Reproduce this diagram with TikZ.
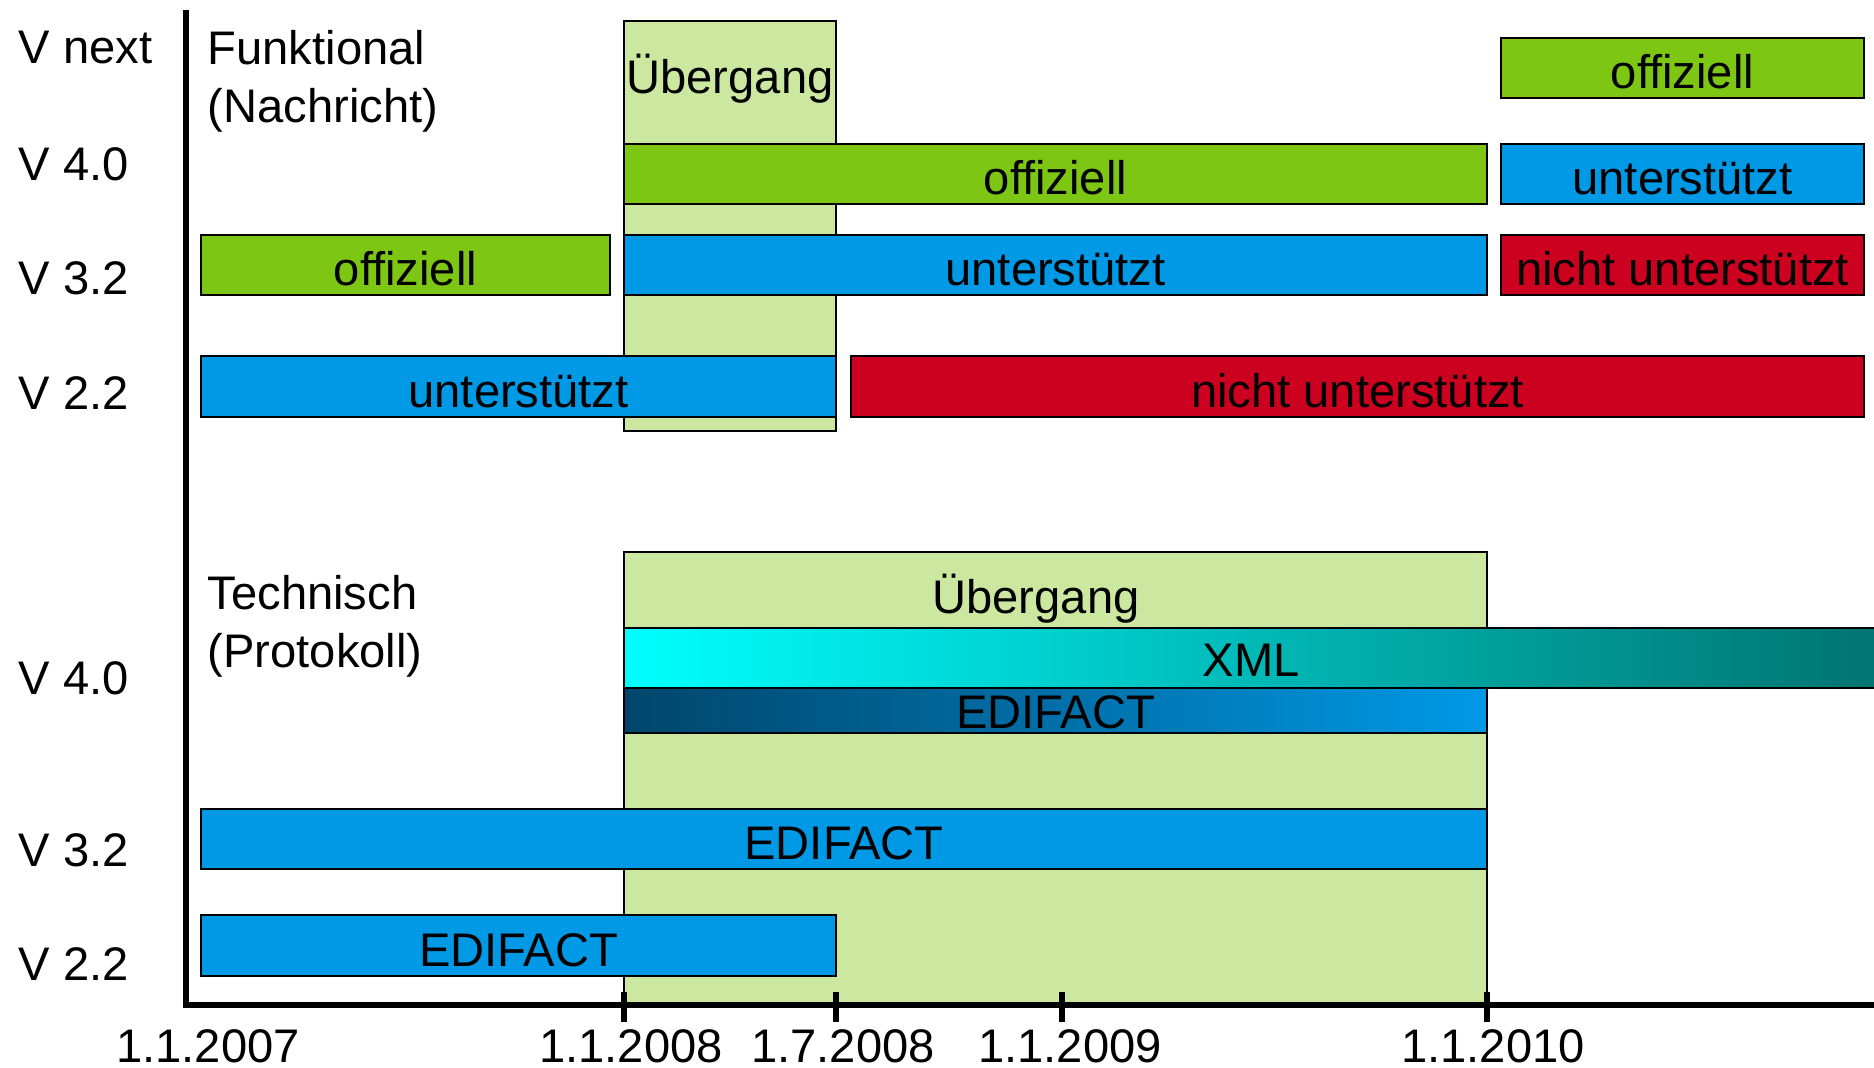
\documentclass[tikz,border=0pt]{standalone}
\usepackage{fontspec}
\setmainfont{Liberation Sans}
\begin{document}
\definecolor{offgreen}{HTML}{7DC614}
\definecolor{supblue}{HTML}{0099E6}
\definecolor{nored}{HTML}{CC001F}
\definecolor{transgreen}{HTML}{CCE8A0}
\definecolor{xmlcyan}{HTML}{00FFFF}
\definecolor{xmlteal}{HTML}{007470}
\definecolor{edidark}{HTML}{00466B}
% bar: name, style, x1, y1, x2, y2, text
\newcommand\tlbar[7]{%
  \node[#2, minimum width={(#5-#3)*0.01cm}, minimum height={(#6-#4)*0.01cm}]
    (#1) at ({(#3+#5)/2},{(#4+#6)/2}) {#7};}
\begin{tikzpicture}[x=0.01cm, y=-0.01cm,
  font=\fontsize{13.4}{16.5}\selectfont,
  barbase/.style={draw=black, line width=0.6pt, inner sep=0pt, outer sep=0pt,
    text=black, text height=11.9pt, text depth=0pt},
  offbar/.style={barbase, fill=offgreen},
  supbar/.style={barbase, fill=supblue},
  nobar/.style={barbase, fill=nored},
  transbox/.style={barbase, fill=transgreen},
  xmlbar/.style={barbase, left color=xmlcyan, right color=xmlteal},
  edibar/.style={barbase, left color=edidark, right color=supblue, text height=10.5pt},
  lbl/.style={inner sep=0pt, anchor=west},
  datelbl/.style={inner sep=0pt},
  axisline/.style={line width=1.8pt, black},
  tickmark/.style={line width=1.5pt, black}]
\useasboundingbox[fill=white] (0,0) rectangle (1874,1067);

% transition periods
\tlbar{transF}{transbox}{624}{21}{836}{431}{}
\node[inner sep=0pt] (transFlbl) at (730,79) {Übergang};
\tlbar{transT}{transbox}{624}{552}{1487}{1005}{}
\node[inner sep=0pt] (transTlbl) at (1036,599) {Übergang};

% functional versions
\tlbar{fNext}{offbar}{1501}{38}{1864}{98}{offiziell}
\tlbar{fFourA}{offbar}{624}{144}{1487}{204}{offiziell}
\tlbar{fFourB}{supbar}{1501}{144}{1864}{204}{unterstützt}
\tlbar{fThreeA}{offbar}{201}{235}{610}{295}{offiziell}
\tlbar{fThreeB}{supbar}{624}{235}{1487}{295}{unterstützt}
\tlbar{fThreeC}{nobar}{1501}{235}{1864}{295}{nicht unterstützt}
\tlbar{fTwoA}{supbar}{201}{356}{836}{417}{unterstützt}
\tlbar{fTwoB}{nobar}{851}{356}{1864}{417}{nicht unterstützt}

% technical versions
\tlbar{tXml}{xmlbar}{624}{628}{1880}{688}{}
\node[inner sep=0pt] (tXmllbl) at (1251,660) {XML};
\tlbar{tFourEdi}{edibar}{624}{688}{1487}{733}{EDIFACT}
\tlbar{tThree}{supbar}{201}{809}{1487}{869}{EDIFACT}
\tlbar{tTwo}{supbar}{201}{915}{836}{976}{EDIFACT}

% axes
\coordinate (axTop) at (186,10);
\coordinate (axOrigin) at (186,1005);
\coordinate (axRight) at (1874,1005);
\draw[axisline] (axTop) -- (axOrigin) -- (axRight);
\foreach \tx/\nm in {624/tA, 836/tB, 1062/tC, 1487/tD}{
  \coordinate (\nm top) at (\tx,992);
  \coordinate (\nm bot) at (\tx,1022);
  \draw[tickmark] (\nm top) -- (\nm bot);
}

% date labels
\node[datelbl] (d2007) at (208,1046) {1.1.2007};
\node[datelbl] (d2008) at (631,1046) {1.1.2008};
\node[datelbl] (d2008b) at (843,1046) {1.7.2008};
\node[datelbl] (d2009) at (1070,1046) {1.1.2009};
\node[datelbl] (d2010) at (1493,1046) {1.1.2010};

% version labels
\node[lbl] (vNext) at (18,48) {V next};
\node[lbl] (vF4) at (18,164) {V 4.0};
\node[lbl] (vF3) at (18,278) {V 3.2};
\node[lbl] (vF2) at (18,393) {V 2.2};
\node[lbl] (vT4) at (18,678) {V 4.0};
\node[lbl] (vT3) at (18,850) {V 3.2};
\node[lbl] (vT2) at (18,964) {V 2.2};

% section headings
\node[lbl, align=left] (secF) at (207,81.5) {Funktional\\(Nachricht)};
\node[lbl, align=left] (secT) at (207,626.5) {Technisch\\(Protokoll)};
\end{tikzpicture}
\end{document}
